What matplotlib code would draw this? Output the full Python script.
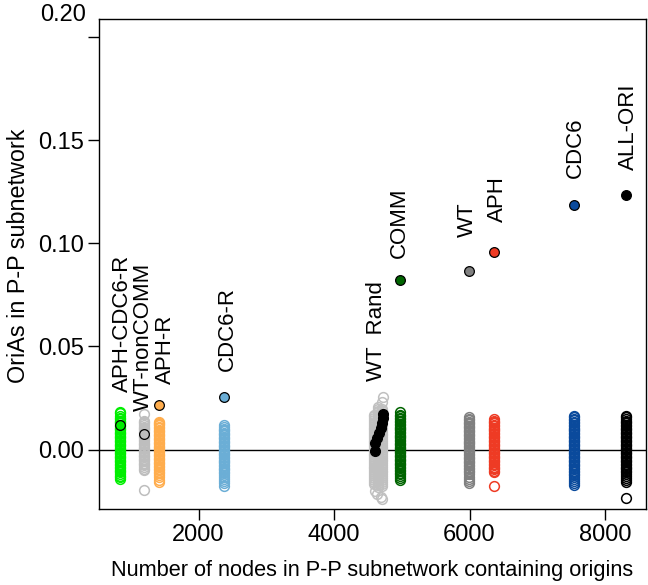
import matplotlib
matplotlib.use("Agg")
import matplotlib.pyplot as plt

plt.rcParams['font.family'] = ['Liberation Sans', 'DejaVu Sans']

# ---------------- data ----------------
groups = ["APH-CDC6-R", "WT-nonCOMM", "APH-R", "CDC6-R", "WT Rand",
          "COMM", "WT", "APH", "CDC6", "ALL-ORI"]
group_nodes = [841, 1195, 1417, 2376, 4650, 4974, 5992, 6361, 7542, 8306]
group_colors = ["#00ee00", "#bebebe", "#ffad4d", "#6baed6", "#c0c0c0",
                "#006400", "#808080", "#ee3b24", "#0a4a9c", "#000000"]
highlight_colors = ["#00ee00", "#bebebe", "#ffad4d", "#6baed6", "#000000",
                    "#006400", "#808080", "#ee3b24", "#0a4a9c", "#000000"]

# observed OriAs value for each group
observed = [0.0121, 0.0078, 0.0214, 0.0257, None,
            0.0820, 0.0866, 0.0958, 0.1188, 0.1233]

# WT random networks (observed, black filled)
wtrand_nodes = [4605, 4612, 4640, 4668, 4698, 4712, 4722, 4716]
wtrand_vals = [-0.0008, 0.0034, 0.0058, 0.0080, 0.0107, 0.0128, 0.0151, 0.0175]

# randomised distributions (open circles)
rand_vals = {
    "APH-CDC6-R": [0.0182, 0.0176, 0.0163, 0.0155, 0.0148, 0.0141, 0.0134, 0.0127,
                   0.0120, 0.0113, 0.0107, 0.0100, 0.0094, 0.0087, 0.0081, 0.0074,
                   0.0068, 0.0061, 0.0055, 0.0048, 0.0042, 0.0035, 0.0029, 0.0022,
                   0.0016, 0.0009, 0.0003, -0.0004, -0.0010, -0.0017, -0.0023,
                   -0.0030, -0.0036, -0.0043, -0.0049, -0.0056, -0.0062, -0.0069,
                   -0.0076, -0.0083, -0.0090, -0.0097, -0.0104, -0.0111, -0.0119,
                   -0.0127, -0.0133, -0.0143],
    "WT-nonCOMM": [0.0173, 0.0140, 0.0133, 0.0127, 0.0119, 0.0112, 0.0106, 0.0099,
                   0.0093, 0.0086, 0.0080, 0.0073, 0.0067, 0.0060, 0.0054, 0.0047,
                   0.0041, 0.0034, 0.0028, 0.0021, 0.0015, 0.0008, 0.0002, -0.0005,
                   -0.0011, -0.0018, -0.0024, -0.0031, -0.0037, -0.0044, -0.0050,
                   -0.0057, -0.0063, -0.0070, -0.0077, -0.0084, -0.0092, -0.0100,
                   -0.0196],
    "APH-R": [0.0136, 0.0130, 0.0123, 0.0117, 0.0110, 0.0104, 0.0097, 0.0091,
              0.0084, 0.0078, 0.0071, 0.0065, 0.0058, 0.0052, 0.0045, 0.0039,
              0.0032, 0.0026, 0.0019, 0.0013, 0.0006, 0.0000, -0.0007, -0.0013,
              -0.0020, -0.0026, -0.0033, -0.0039, -0.0046, -0.0052, -0.0059,
              -0.0065, -0.0072, -0.0078, -0.0085, -0.0092, -0.0099, -0.0107,
              -0.0114, -0.0125, -0.0134, -0.0146, -0.0155],
    "CDC6-R": [0.0117, 0.0108, 0.0102, 0.0095, 0.0089, 0.0082, 0.0076, 0.0069,
               0.0063, 0.0056, 0.0050, 0.0043, 0.0037, 0.0030, 0.0024, 0.0017,
               0.0011, 0.0004, -0.0002, -0.0009, -0.0015, -0.0022, -0.0028,
               -0.0035, -0.0041, -0.0048, -0.0054, -0.0061, -0.0067, -0.0074,
               -0.0080, -0.0087, -0.0093, -0.0100, -0.0107, -0.0114, -0.0122,
               -0.0131, -0.0142, -0.0152, -0.0164, -0.0175],
    "COMM": [0.0182, 0.0169, 0.0161, 0.0154, 0.0147, 0.0140, 0.0133, 0.0126,
             0.0119, 0.0112, 0.0106, 0.0099, 0.0093, 0.0086, 0.0080, 0.0073,
             0.0067, 0.0060, 0.0054, 0.0047, 0.0041, 0.0034, 0.0028, 0.0021,
             0.0015, 0.0008, 0.0002, -0.0005, -0.0011, -0.0018, -0.0024, -0.0031,
             -0.0037, -0.0044, -0.0050, -0.0057, -0.0063, -0.0070, -0.0076,
             -0.0083, -0.0090, -0.0097, -0.0104, -0.0112, -0.0120, -0.0130,
             -0.0139, -0.0148],
    "WT": [0.0158, 0.0150, 0.0143, 0.0136, 0.0129, 0.0122, 0.0116, 0.0109,
           0.0103, 0.0096, 0.0090, 0.0083, 0.0077, 0.0070, 0.0064, 0.0057,
           0.0051, 0.0044, 0.0038, 0.0031, 0.0025, 0.0018, 0.0012, 0.0005,
           -0.0001, -0.0008, -0.0014, -0.0021, -0.0027, -0.0034, -0.0040,
           -0.0047, -0.0053, -0.0060, -0.0066, -0.0073, -0.0080, -0.0087,
           -0.0094, -0.0102, -0.0110, -0.0120, -0.0132, -0.0141, -0.0152, -0.0163],
    "APH": [0.0148, 0.0141, 0.0134, 0.0127, 0.0120, 0.0114, 0.0107, 0.0101,
            0.0094, 0.0088, 0.0081, 0.0075, 0.0068, 0.0062, 0.0055, 0.0049,
            0.0042, 0.0036, 0.0029, 0.0023, 0.0016, 0.0010, 0.0003, -0.0003,
            -0.0010, -0.0016, -0.0023, -0.0029, -0.0036, -0.0042, -0.0049,
            -0.0055, -0.0062, -0.0068, -0.0075, -0.0082, -0.0089, -0.0096,
            -0.0103, -0.0109, -0.0175],
    "CDC6": [0.0165, 0.0157, 0.0149, 0.0142, 0.0135, 0.0128, 0.0121, 0.0114,
             0.0107, 0.0101, 0.0094, 0.0088, 0.0081, 0.0075, 0.0068, 0.0062,
             0.0055, 0.0049, 0.0042, 0.0036, 0.0029, 0.0023, 0.0016, 0.0010,
             0.0003, -0.0003, -0.0010, -0.0016, -0.0023, -0.0029, -0.0036,
             -0.0042, -0.0049, -0.0055, -0.0062, -0.0068, -0.0075, -0.0081,
             -0.0088, -0.0095, -0.0102, -0.0109, -0.0116, -0.0124, -0.0133,
             -0.0143, -0.0152, -0.0161, -0.0170],
    "ALL-ORI": [0.0165, 0.0156, 0.0148, 0.0141, 0.0134, 0.0127, 0.0120, 0.0113,
                0.0107, 0.0100, 0.0094, 0.0087, 0.0081, 0.0074, 0.0068, 0.0061,
                0.0055, 0.0048, 0.0042, 0.0035, 0.0029, 0.0022, 0.0016, 0.0009,
                0.0003, -0.0004, -0.0010, -0.0017, -0.0023, -0.0030, -0.0036,
                -0.0043, -0.0049, -0.0056, -0.0062, -0.0069, -0.0075, -0.0082,
                -0.0089, -0.0096, -0.0103, -0.0111, -0.0119, -0.0128, -0.0137,
                -0.0148, -0.0158, -0.0235],
}

# WT random networks: three node-count bands of the random distribution
wtrand_band_nodes = [4595, 4655, 4715]
wtrand_band_vals = [
    [0.0170, 0.0161, 0.0152, 0.0143, 0.0134, 0.0125, 0.0116, 0.0107, 0.0098,
     0.0089, 0.0080, 0.0071, 0.0062, 0.0053, 0.0044, 0.0035, 0.0026, 0.0017,
     0.0008, -0.0001, -0.0010, -0.0019, -0.0028, -0.0037, -0.0046, -0.0055,
     -0.0064, -0.0073, -0.0082, -0.0091, -0.0100, -0.0109, -0.0118, -0.0127,
     -0.0136, -0.0145, -0.0155, -0.0165],
    [0.0206, 0.0198, 0.0189, 0.0180, 0.0171, 0.0162, 0.0153, 0.0144, 0.0135,
     0.0126, 0.0117, 0.0108, 0.0099, 0.0090, 0.0081, 0.0072, 0.0063, 0.0054,
     0.0045, 0.0036, 0.0027, 0.0018, 0.0009, 0.0000, -0.0009, -0.0018, -0.0027,
     -0.0036, -0.0045, -0.0054, -0.0063, -0.0072, -0.0081, -0.0090, -0.0099,
     -0.0108, -0.0117, -0.0126, -0.0135, -0.0144, -0.0153, -0.0162, -0.0172,
     -0.0182],
    [0.0195, 0.0186, 0.0177, 0.0168, 0.0159, 0.0150, 0.0141, 0.0132, 0.0123,
     0.0114, 0.0105, 0.0096, 0.0087, 0.0078, 0.0069, 0.0060, 0.0051, 0.0042,
     0.0033, 0.0024, 0.0015, 0.0006, -0.0003, -0.0012, -0.0021, -0.0030,
     -0.0039, -0.0048, -0.0057, -0.0066, -0.0075, -0.0084, -0.0093, -0.0102,
     -0.0111, -0.0120, -0.0129, -0.0138, -0.0147, -0.0156, -0.0166, -0.0175],
]
wtrand_out_nodes = [4720, 4705, 4610, 4640, 4700, 4705]
wtrand_out_vals = [0.0254, 0.0230, -0.0200, -0.0215, -0.0228, -0.0238]

# label anchor (bottom of rotated text) in data units
label_x = [870, 1180, 1505, 2420, 4634, 4959, 5963, 6406, 7557, 8339]
label_y = [0.0277, 0.0189, 0.0320, 0.0383, 0.0335, 0.0927, 0.1029, 0.1102, 0.1316, 0.1354]
label_text = ["APH-CDC6-R", "WT-nonCOMM", "APH-R", "CDC6-R", "WT  Rand",
              "COMM", "WT", "APH", "CDC6", "ALL-ORI"]

xticks = [2000, 4000, 6000, 8000]
yticks = [0.00, 0.05, 0.10, 0.15, 0.20]

# ---------------- plot ----------------
W, H = 648, 585
fig = plt.figure(figsize=(W / 100, H / 100), dpi=100)
ax = fig.add_axes([99 / W, 1 - 509 / H, 547 / W, 490 / H])

TICK_FS = 17
LAB_FS = 16
ms = 7.0
mew = 1.1

def open_circles(xs, ys, col):
    ax.plot(xs, ys, linestyle='none', marker='o', markersize=ms,
            markerfacecolor='none', markeredgecolor=col, markeredgewidth=mew, zorder=2)

for g, nx, col in zip(groups, group_nodes, group_colors):
    if g == "WT Rand":
        for bn, bv in zip(wtrand_band_nodes, wtrand_band_vals):
            open_circles([bn] * len(bv), bv, col)
        open_circles(wtrand_out_nodes, wtrand_out_vals, col)
    else:
        vals = rand_vals[g]
        open_circles([nx] * len(vals), vals, col)

ax.axhline(0, color='black', lw=1.0, zorder=1)

for g, nx, obs, hc in zip(groups, group_nodes, observed, highlight_colors):
    if obs is None:
        continue
    ax.plot([nx], [obs], linestyle='none', marker='o', markersize=ms,
            markerfacecolor=hc, markeredgecolor='black', markeredgewidth=0.9, zorder=4)

ax.plot(wtrand_nodes, wtrand_vals, linestyle='none', marker='o', markersize=ms,
        markerfacecolor='black', markeredgecolor='black', zorder=4)

for lx, ly, t in zip(label_x, label_y, label_text):
    ax.text(lx, ly, t, rotation=90, rotation_mode='anchor', ha='left', va='center',
            fontsize=LAB_FS, zorder=5)

ax.set_xlim(531, 8605)
ax.set_ylim(-0.0288, 0.2088)
ax.set_xticks(xticks)
ax.set_xticklabels([str(v) for v in xticks], fontsize=TICK_FS)
ax.set_yticks(yticks)
ax.set_yticklabels(["%.2f" % v for v in yticks[:-1]] + [""], fontsize=TICK_FS)
ax.tick_params(direction='out', length=8, width=1, pad=3, colors='black')
for s in ax.spines.values():
    s.set_linewidth(1.0)
    s.set_color('black')

# the top label sits above its tick in the reference
fig.text(86 / W, 1 - 15 / H, "0.20", ha='right', va='center', fontsize=TICK_FS)

ax.set_xlabel("Number of nodes in P-P subnetwork containing origins", fontsize=15.7, labelpad=10)
fig.text(19 / W, 1 - 256 / H, "OriAs in P-P subnetwork", rotation=90,
         ha='center', va='center', fontsize=16.8)

fig.savefig("out.png", dpi=100)
